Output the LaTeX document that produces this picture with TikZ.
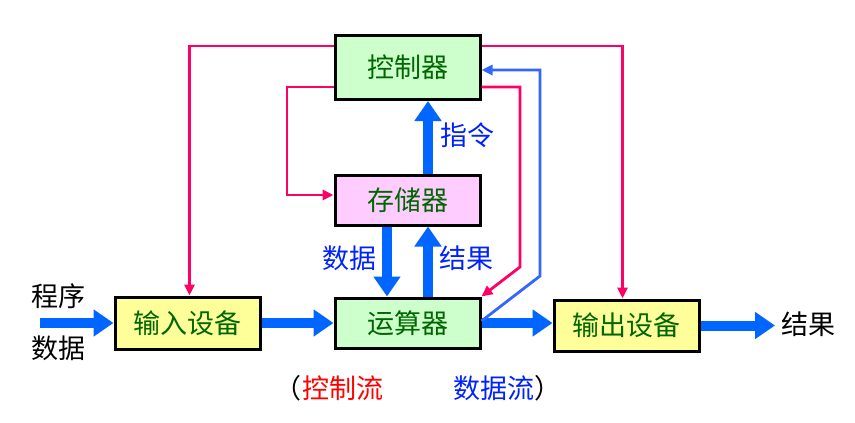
\documentclass[tikz,border=0pt]{standalone}
\usepackage{fontspec}
\setmainfont{Noto Sans CJK SC}
\usetikzlibrary{arrows.meta,calc}
\definecolor{boxgreen}{HTML}{CCFFCC}
\definecolor{boxpink}{HTML}{FFCCFF}
\definecolor{boxyellow}{HTML}{FFFF99}
\definecolor{txtgreen}{HTML}{006600}
\definecolor{fatblue}{HTML}{0066FF}
\definecolor{ctlred}{HTML}{FF0066}
\definecolor{datblue}{HTML}{3366FF}
\definecolor{lblblue}{HTML}{0022FF}
\definecolor{flowred}{HTML}{FF0000}
\begin{document}
\begin{tikzpicture}[x=1pt,y=-1pt,
  unit/.style={draw=black,line width=3pt,minimum width=145pt,text=txtgreen,font=\fontsize{27}{29}\selectfont,inner sep=0pt},
  fat/.style={draw=fatblue,line width=10pt,-{Triangle[length=20pt,width=26pt]}},
  ctl/.style={draw=ctlred,line width=2.8pt,-{Triangle[length=11pt,width=10pt]}},
  dat/.style={draw=datblue,line width=2.8pt,-{Triangle[length=11pt,width=10pt]}},
  lbl/.style={text=lblblue,font=\fontsize{27}{29}\selectfont,inner sep=0pt},
  plain/.style={text=black,font=\fontsize{27}{29}\selectfont,inner sep=0pt}]
\useasboundingbox (0,0) rectangle (855,423);
% boxes
\node[unit,fill=boxgreen,minimum height=64pt] (ctrl) at (407.5,67.5) {控制器};
\node[unit,fill=boxpink,minimum height=50pt] (mem) at (407.5,200) {存储器};
\node[unit,fill=boxgreen,minimum height=50pt] (alu) at (407.5,323) {运算器};
\node[unit,fill=boxyellow,minimum height=52pt] (in) at (187.5,323) {输入设备};
\node[unit,fill=boxyellow,minimum height=51pt] (out) at (626.5,325.5) {输出设备};
% free ends
\coordinate (src) at (40,323);
\coordinate (dst) at (775,325.5);
% fat data arrows
\draw[fat] (src) -- (in.west);
\draw[fat] (in.east) -- (alu.west);
\draw[fat] (alu.east) -- (alu.east -| out.west);
\draw[fat] (out.east) -- (dst);
\draw[fat] (mem.south -| 387,0) -- (alu.north -| 387,0);
\draw[fat] (alu.north -| 428,0) -- (mem.south -| 428,0);
\draw[fat] (mem.north -| 428,0) -- (ctrl.south -| 428,0);
% control lines
\draw[ctl] (ctrl.west |- 0,46) -| ([xshift=2pt]in.north);
\draw[ctl] (ctrl.east |- 0,46) -| ([xshift=-4pt]out.north);
\draw[ctl] (ctrl.west |- 0,87) -- (287,87) -- (287,195) -- (mem.west |- 0,195);
\draw[ctl] (ctrl.east |- 0,87) -- (520,87) -- (520,267) -- (alu.north east);
% data feedback line
\draw[dat] ([yshift=2pt]alu.east) -- (540,276) -- (540,70) -- (ctrl.east |- 0,70);
% labels
\node[lbl] (l1) at (467,135) {指令};
\node[lbl] (l2) at (349,258) {数据};
\node[lbl] (l3) at (466,258) {结果};
\node[plain] (t1) at (58,296) {程序};
\node[plain] (t2) at (58,348) {数据};
\node[plain] (t3) at (808,324) {结果};
\node[plain,anchor=east] (p1) at (302,388) {（};
\node[plain,text=flowred,anchor=west] (f1) at (302,388) {控制流};
\node[plain,text=lblblue,anchor=west] (f2) at (453,388) {数据流};
\node[plain,anchor=west] (p2) at (f2.east) {）};
\end{tikzpicture}
\end{document}
